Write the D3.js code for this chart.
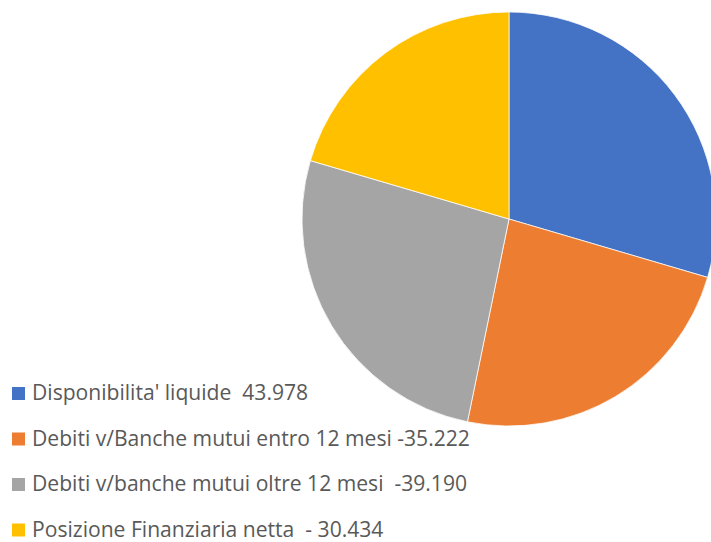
<!DOCTYPE html>
<html>
<head>
<meta charset="utf-8">
<script src="https://cdnjs.cloudflare.com/ajax/libs/d3/7.8.5/d3.min.js"></script>
<style>
    body { margin: 0; background: #ffffff; }
    svg { display: block; }
    .legend-label { font-family: "Open Sans", "Noto Sans", sans-serif; fill: #595959; white-space: pre; }
</style>
</head>
<body>
<svg id="chart" width="711" height="542"></svg>
<script>
// Chart data
var CATEGORIES = [
    "Disponibilita' liquide  43.978",
    "Debiti v/Banche mutui entro 12 mesi -35.222",
    "Debiti v/banche mutui oltre 12 mesi  -39.190",
    "Posizione Finanziaria netta  - 30.434"
];
var VALUES = [43.978, 35.222, 39.190, 30.434];
var COLORS = ["#4472C4", "#ED7D31", "#A5A5A5", "#FFC000"];

// Layout
var CANVAS_WIDTH = 711;
var CANVAS_HEIGHT = 542;
var PIE_CX = 509;
var PIE_CY = 219;
var PIE_RADIUS = 207;
var LEGEND_X = 12;
var LEGEND_TOP = 400;
var LEGEND_ROW_GAP = 45.5;
var LEGEND_SQ = 13;
var LEGEND_FONT_SIZE = 21.1;

var svg = d3.select("#chart");

var colorScale = d3.scaleOrdinal()
    .domain(d3.range(CATEGORIES.length))
    .range(COLORS);

// Render pie slices
var pie = d3.pie()
    .sort(null)
    .value(d => d);

var arc = d3.arc()
    .innerRadius(0)
    .outerRadius(PIE_RADIUS);

var pieGroup = svg.append("g")
    .attr("transform", "translate(" + PIE_CX + "," + PIE_CY + ")");

pieGroup.selectAll(".slice")
    .data(pie(VALUES))
    .enter()
    .append("path")
    .attr("class", "slice")
    .attr("d", arc)
    .attr("fill", (d, i) => colorScale(i))
    .attr("stroke", "#ffffff")
    .attr("stroke-width", 0.75);

// Render legend
var yScale = d3.scaleLinear()
    .domain([0, 1])
    .range([LEGEND_TOP, LEGEND_TOP + LEGEND_ROW_GAP]);

var legend = svg.selectAll(".legend-row")
    .data(CATEGORIES)
    .enter()
    .append("g")
    .attr("class", "legend-row")
    .attr("transform", (d, i) => "translate(" + LEGEND_X + "," + yScale(i) + ")");

legend.append("rect")
    .attr("x", 0)
    .attr("y", -LEGEND_SQ)
    .attr("width", LEGEND_SQ)
    .attr("height", LEGEND_SQ)
    .attr("fill", (d, i) => colorScale(i));

legend.append("text")
    .attr("class", "legend-label")
    .attr("x", LEGEND_SQ + 7)
    .attr("y", 0)
    .attr("font-size", LEGEND_FONT_SIZE)
    .text(d => d);
</script>
</body>
</html>
